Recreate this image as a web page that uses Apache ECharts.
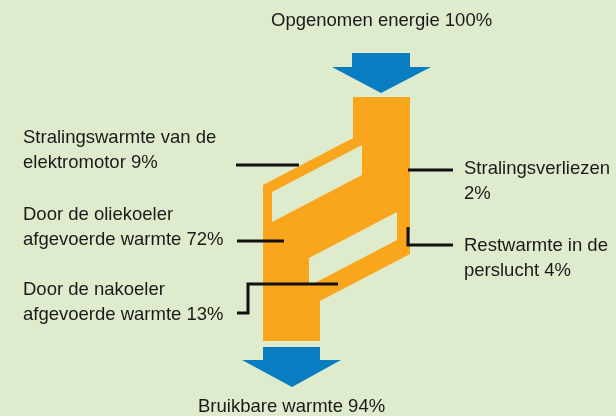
<!DOCTYPE html>
<html>
<head>
<meta charset="utf-8">
<script src="https://cdn.jsdelivr.net/npm/echarts@6/dist/echarts.min.js"></script>
<style>
  html, body { margin: 0; background: #dfebcd; }
  #main { width: 616px; height: 416px; }
</style>
</head>
<body>
<div id="main"></div>
<script>
// energiestromen, in % van de opgenomen energie
const flowNames = ['Opgenomen energie', 'Stralingswarmte van de elektromotor', 'Door de oliekoeler afgevoerde warmte',
  'Door de nakoeler afgevoerde warmte', 'Stralingsverliezen', 'Restwarmte in de perslucht', 'Bruikbare warmte'];
const flowPercent = [100, 9, 72, 13, 2, 4, 94];
// aantal woorden op de eerste regel (0 = geen afbreking)
const wrapAfter = [0, 3, 3, 3, 1, 3, 0];

// schema in diagram-eenheden (x naar rechts, y naar beneden)
const bodyOutline = [[353, 97], [410, 97], [410, 254], [320, 301], [320, 341], [263, 341], [263, 185], [353, 138]];
const bodyHoles = [
  [[272, 192], [362, 145], [362, 175], [272, 222]],
  [[309, 258], [397, 212], [397, 240], [309, 286]]
];
const arrowIn = [[352, 53], [410, 53], [410, 67], [431, 67], [381, 93], [332, 67], [352, 67]];
const arrowOut = [[263, 347], [320, 347], [320, 360], [341, 360], [292, 387], [242, 360], [263, 360]];
const leaders = [
  [[236, 165], [299, 165]],
  [[237, 241], [284, 241]],
  [[237, 313], [248, 313], [248, 284], [338, 284]],
  [[408, 170], [453, 170]],
  [[408, 227], [408, 245], [453, 245]]
];
// ankerpunt per label: linkerkant, midden eerste regel
const labelAnchor = [[271, 21], [23, 138], [23, 215], [23, 290], [464, 169], [464, 246], [198, 407]];

const BG = '#dfebcd', ORANGE = '#f9a61c', BLUE = '#0a7cc1';

function labelText(i) {
  const words = (flowNames[i] + ' ' + flowPercent[i] + '%').split(' ');
  if (!wrapAfter[i]) return words.join(' ');
  return words.slice(0, wrapAfter[i]).join(' ') + '\n' + words.slice(wrapAfter[i]).join(' ');
}

const shapes = [
  { pts: bodyOutline, fill: ORANGE },
  { pts: bodyHoles[0], fill: BG },
  { pts: bodyHoles[1], fill: BG },
  { pts: arrowIn, fill: BLUE },
  { pts: arrowOut, fill: BLUE }
];

const chart = echarts.init(document.getElementById('main'));

const series = [{
  type: 'custom',
  silent: true,
  data: shapes.map((s, i) => [i]),
  renderItem: function (params, api) {
    const s = shapes[api.value(0)];
    return {
      type: 'polygon',
      shape: { points: s.pts.map(p => api.coord(p)) },
      style: { fill: s.fill }
    };
  }
}];

leaders.forEach(function (pts) {
  series.push({
    type: 'line',
    data: pts,
    symbol: 'none',
    silent: true,
    lineStyle: { color: '#111', width: 3, cap: 'butt', join: 'miter' }
  });
});

series.push({
  type: 'custom',
  silent: true,
  data: flowNames.map((n, i) => [i]),
  renderItem: function (params, api) {
    const i = api.value(0);
    const p = api.coord(labelAnchor[i]);
    return {
      type: 'text',
      x: p[0],
      y: p[1] - 12.5,
      style: {
        text: labelText(i),
        fill: '#1a1a1a',
        fontSize: 18.5,
        fontFamily: '"Liberation Sans", Arial, sans-serif',
        lineHeight: 25,
        align: 'left',
        verticalAlign: 'top'
      }
    };
  }
});

chart.setOption({
  backgroundColor: BG,
  animation: false,
  grid: { left: 0, right: 0, top: 0, bottom: 0 },
  xAxis: { type: 'value', min: 0, max: 616, show: false },
  yAxis: { type: 'value', min: 0, max: 416, inverse: true, show: false },
  series: series
});
</script>
</body>
</html>
